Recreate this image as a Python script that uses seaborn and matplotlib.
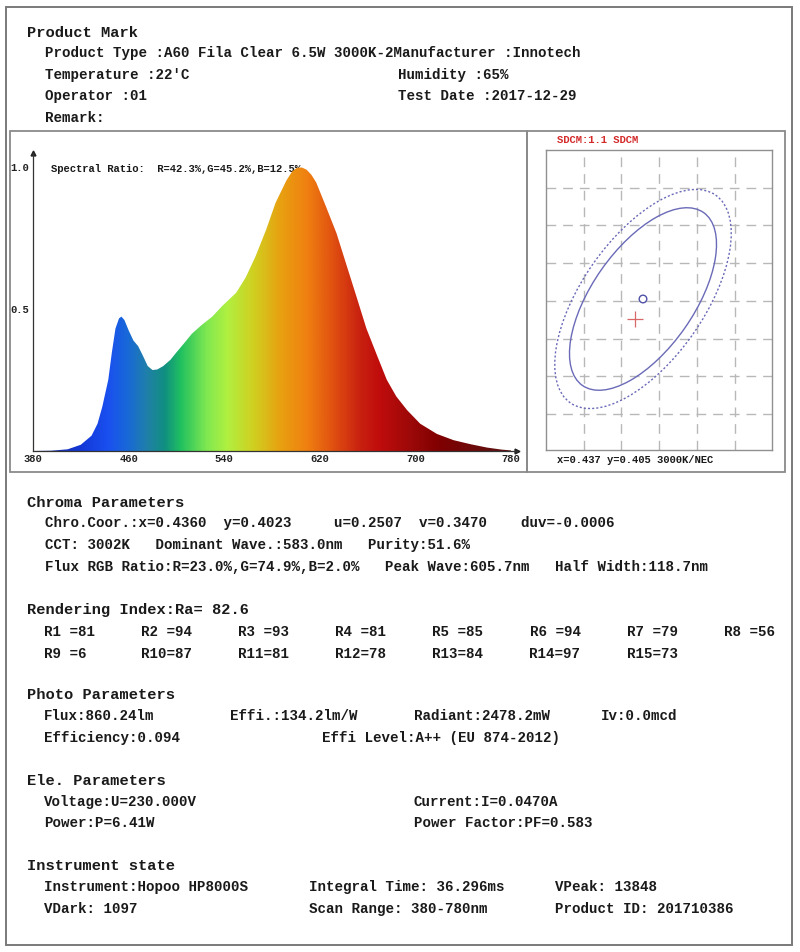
import numpy as np
import matplotlib
matplotlib.use("Agg")
import matplotlib.pyplot as plt
from matplotlib.colors import LinearSegmentedColormap
from matplotlib.patches import Rectangle, Ellipse
import seaborn as sns

# ---- data ----
wavelength = [380, 395, 409, 420, 429, 434, 438, 443, 446, 449, 452, 454, 456.5, 460, 464, 468,
              472, 476, 480, 484, 489, 495, 500, 506, 513, 521, 530, 538, 550, 558, 566, 575,
              583, 592, 597, 601, 605, 609, 613, 617, 625, 634, 642, 651, 659, 668, 676, 684,
              693, 704, 718, 732, 746, 760, 772, 780]
rel_power = [0, 0.001, 0.006, 0.022, 0.054, 0.096, 0.156, 0.251, 0.347, 0.431, 0.467, 0.473,
             0.461, 0.425, 0.389, 0.369, 0.335, 0.299, 0.285, 0.287, 0.299, 0.321, 0.347, 0.377,
             0.413, 0.443, 0.473, 0.509, 0.557, 0.611, 0.683, 0.778, 0.874, 0.952, 0.985,
             0.997, 0.998, 0.99, 0.972, 0.945, 0.862, 0.766, 0.659, 0.539, 0.431, 0.335, 0.251,
             0.192, 0.144, 0.096, 0.06, 0.038, 0.024, 0.012, 0.005, 0.002]
x_ticks = [380, 460, 540, 620, 700, 780]
y_ticks = [0.5, 1.0]
spectral_ratio = "Spectral Ratio:  R=42.3%,G=45.2%,B=12.5%,"

# SDCM: target (3000K NEC) and measured chromaticity
target_xy = (0.437, 0.405)
measured_xy = (0.4360, 0.4023)
ellipse_a = [0.01400, 0.01681]      # semi-major, inner (solid) / outer (dotted)
ellipse_b = [0.00675, 0.00810]
ellipse_angle = 55.0
sdcm_title = "SDCM:1.1 SDCM"
sdcm_note = "x=0.437 y=0.405 3000K/NEC"

header_lines = [
    ("Product Type :A60 Fila Clear 6.5W 3000K-2Manufacturer :Innotech", 45, 53),
    ("Temperature :22'C", 45, 75), ("Humidity :65%", 398, 75),
    ("Operator :01", 45, 96), ("Test Date :2017-12-29", 398, 96),
    ("Remark:", 45, 118),
]
chroma_lines = [
    "Chro.Coor.:x=0.4360  y=0.4023     u=0.2507  v=0.3470    duv=-0.0006",
    "CCT: 3002K   Dominant Wave.:583.0nm   Purity:51.6%",
    "Flux RGB Ratio:R=23.0%,G=74.9%,B=2.0%   Peak Wave:605.7nm   Half Width:118.7nm",
]
ra_value = "82.6"
r_names = ["R1 ", "R2 ", "R3 ", "R4 ", "R5 ", "R6 ", "R7 ", "R8 ",
           "R9 ", "R10", "R11", "R12", "R13", "R14", "R15"]
r_values = [81, 94, 93, 81, 85, 94, 79, 56, 6, 87, 81, 78, 84, 97, 73]
photo_lines = [
    ("Flux:860.24lm", 44, 716), ("Effi.:134.2lm/W", 230, 716),
    ("Radiant:2478.2mW", 414, 716), ("Iv:0.0mcd", 601, 716),
    ("Efficiency:0.094", 44, 738), ("Effi Level:A++ (EU 874-2012)", 322, 738),
]
ele_lines = [
    ("Voltage:U=230.000V", 44, 802), ("Current:I=0.0470A", 414, 802),
    ("Power:P=6.41W", 44, 823), ("Power Factor:PF=0.583", 414, 823),
]
inst_lines = [
    ("Instrument:Hopoo HP8000S", 44, 887), ("Integral Time: 36.296ms", 309, 887),
    ("VPeak: 13848", 555, 887),
    ("VDark: 1097", 44, 909), ("Scan Range: 380-780nm", 309, 909),
    ("Product ID: 201710386", 555, 909),
]

# spectrum colour stops (wavelength, colour)
spec_stops = [(380, "#1a2a90"), (420, "#1438d8"), (442, "#1a50f0"), (458, "#1868d8"),
              (475, "#2080a8"), (490, "#109080"), (503, "#20c060"), (525, "#80e850"),
              (542, "#b0f040"), (564, "#d0d020"), (587, "#e8a010"), (609, "#f08010"),
              (631, "#e05010"), (654, "#c82010"), (670, "#c00c0c"), (698, "#9a0808"),
              (720, "#800000"), (768, "#601010"), (780, "#581010")]

sns.set_theme(style="white")
plt.rcParams["font.family"] = ["Liberation Mono", "DejaVu Sans Mono"]
plt.rcParams["font.weight"] = "bold"

W, H = 800, 952
TXT = "#1a1a1a"
BODY = 10.2
HEAD = 11.1
SMALL = 7.6

fig = plt.figure(figsize=(W / 100, H / 100), dpi=100)
fig.patch.set_facecolor("white")


def px_axes(l, t, r, b):
    return fig.add_axes([l / W, 1 - b / H, (r - l) / W, (b - t) / H])


bg = fig.add_axes([0, 0, 1, 1])
bg.set_xlim(0, W)
bg.set_ylim(H, 0)
bg.axis("off")

# frames
bg.add_patch(Rectangle((6, 7), 786, 938, fill=False, ec="#7a7a7a", lw=1.4))
bg.add_patch(Rectangle((10, 131), 517, 341, fill=False, ec="#8a8a8a", lw=1.3))
bg.add_patch(Rectangle((527, 131), 258, 341, fill=False, ec="#8a8a8a", lw=1.3))


def put(s, x, y, size=BODY, color=TXT):
    bg.text(x, y, s, fontsize=size, color=color, ha="left", va="center",
            fontweight="bold")


# header block
put("Product Mark", 27, 33, HEAD)
for s, x, y in header_lines:
    put(s, x, y)

# chroma block
put("Chroma Parameters", 27, 503, HEAD)
for i, s in enumerate(chroma_lines):
    put(s, 45, 523 + 22 * i)

put("Rendering Index:Ra= " + ra_value, 27, 610, HEAD)
for i, (n, v) in enumerate(zip(r_names, r_values)):
    row, col = divmod(i, 8)
    put(f"{n}={v}", 44 + 97.1 * col, 632 + 22 * row)

put("Photo Parameters", 27, 695, HEAD)
for s, x, y in photo_lines:
    put(s, x, y)

put("Ele. Parameters", 27, 781, HEAD)
for s, x, y in ele_lines:
    put(s, x, y)

put("Instrument state", 27, 866, HEAD)
for s, x, y in inst_lines:
    put(s, x, y)

# ---- spectrum ----
ax = px_axes(33, 153, 517, 451)
ax.patch.set_alpha(0)
cmap = LinearSegmentedColormap.from_list(
    "spec", [((w - 380) / 400, c) for w, c in spec_stops])
poly = ax.fill_between(wavelength, rel_power, 0, facecolor="none", edgecolor="none")
grad = np.linspace(380, 780, 800).reshape(1, -1)
im = ax.imshow(grad, extent=[380, 780, 0, 1.0], aspect="auto", cmap=cmap,
               vmin=380, vmax=780, origin="lower", zorder=1, interpolation="bilinear")
im.set_clip_path(poly.get_paths()[0], transform=ax.transData)
ax.set_xlim(380, 785)
ax.set_ylim(0, 1.049)
for side in ["top", "right"]:
    ax.spines[side].set_visible(False)
for side in ["left", "bottom"]:
    ax.spines[side].set_color("#333333")
    ax.spines[side].set_linewidth(0.9)
ax.plot([380], [1.049], marker="^", ms=3.5, color="#222222", clip_on=False)
ax.plot([785], [0], marker=">", ms=3.5, color="#222222", clip_on=False)
ax.set_xticks(x_ticks)
ax.set_xticklabels([str(t) for t in x_ticks])
ax.set_yticks(y_ticks)
ax.set_yticklabels([f"{t:.1f}" for t in y_ticks])
ax.tick_params(axis="x", direction="in", length=3, width=0.7, pad=2.5,
               labelsize=SMALL, colors="#222222")
ax.tick_params(axis="y", direction="out", length=1.5, width=0.7, pad=1.5,
               labelsize=SMALL, colors="#222222")
ax.grid(False)
put(spectral_ratio, 51, 169, SMALL)

# ---- SDCM ----
k = 7540.0   # px per chromaticity unit
x0 = target_xy[0] - (643 - 546) / k
x1 = target_xy[0] + (772 - 643) / k
y0 = target_xy[1] - (450 - 299) / k
y1 = target_xy[1] + (299 - 150) / k
sx = px_axes(546, 150, 772, 450)
sx.set_xlim(x0, x1)
sx.set_ylim(y0, y1)
sx.set_xticks([x0 + 0.005 * i for i in range(1, 6)])
sx.set_yticks([y1 - 0.005 * i for i in range(1, 8)])
sx.tick_params(length=0, labelbottom=False, labelleft=False)
sx.grid(True, color="#b8b8b8", lw=1.0, linestyle=(0, (7, 5)))
for sp in sx.spines.values():
    sp.set_color("#909090")
    sp.set_linewidth(1.0)
    sp.set_visible(True)

ell_styles = ["-", (0, (1.5, 1.5))]
for a, b, ls in zip(ellipse_a, ellipse_b, ell_styles):
    sx.add_patch(Ellipse(target_xy, 2 * a, 2 * b, angle=ellipse_angle, fill=False,
                         ec="#6a6ab8", lw=1.0, ls=ls))
sns.scatterplot(x=[target_xy[0]], y=[target_xy[1]], ax=sx, s=30, marker="o",
                facecolors="none", edgecolors="#5050a8", linewidth=1.0, zorder=5)
sns.scatterplot(x=[measured_xy[0]], y=[measured_xy[1]], ax=sx, s=120, marker="+",
                color="#d86868", linewidth=0.9, zorder=5)
sx.set_xlabel("")
sx.set_ylabel("")

put(sdcm_title, 557, 140, SMALL, "#d42a2a")
put(sdcm_note, 557, 460, SMALL)

fig.savefig("out.png", dpi=100, facecolor="white")
